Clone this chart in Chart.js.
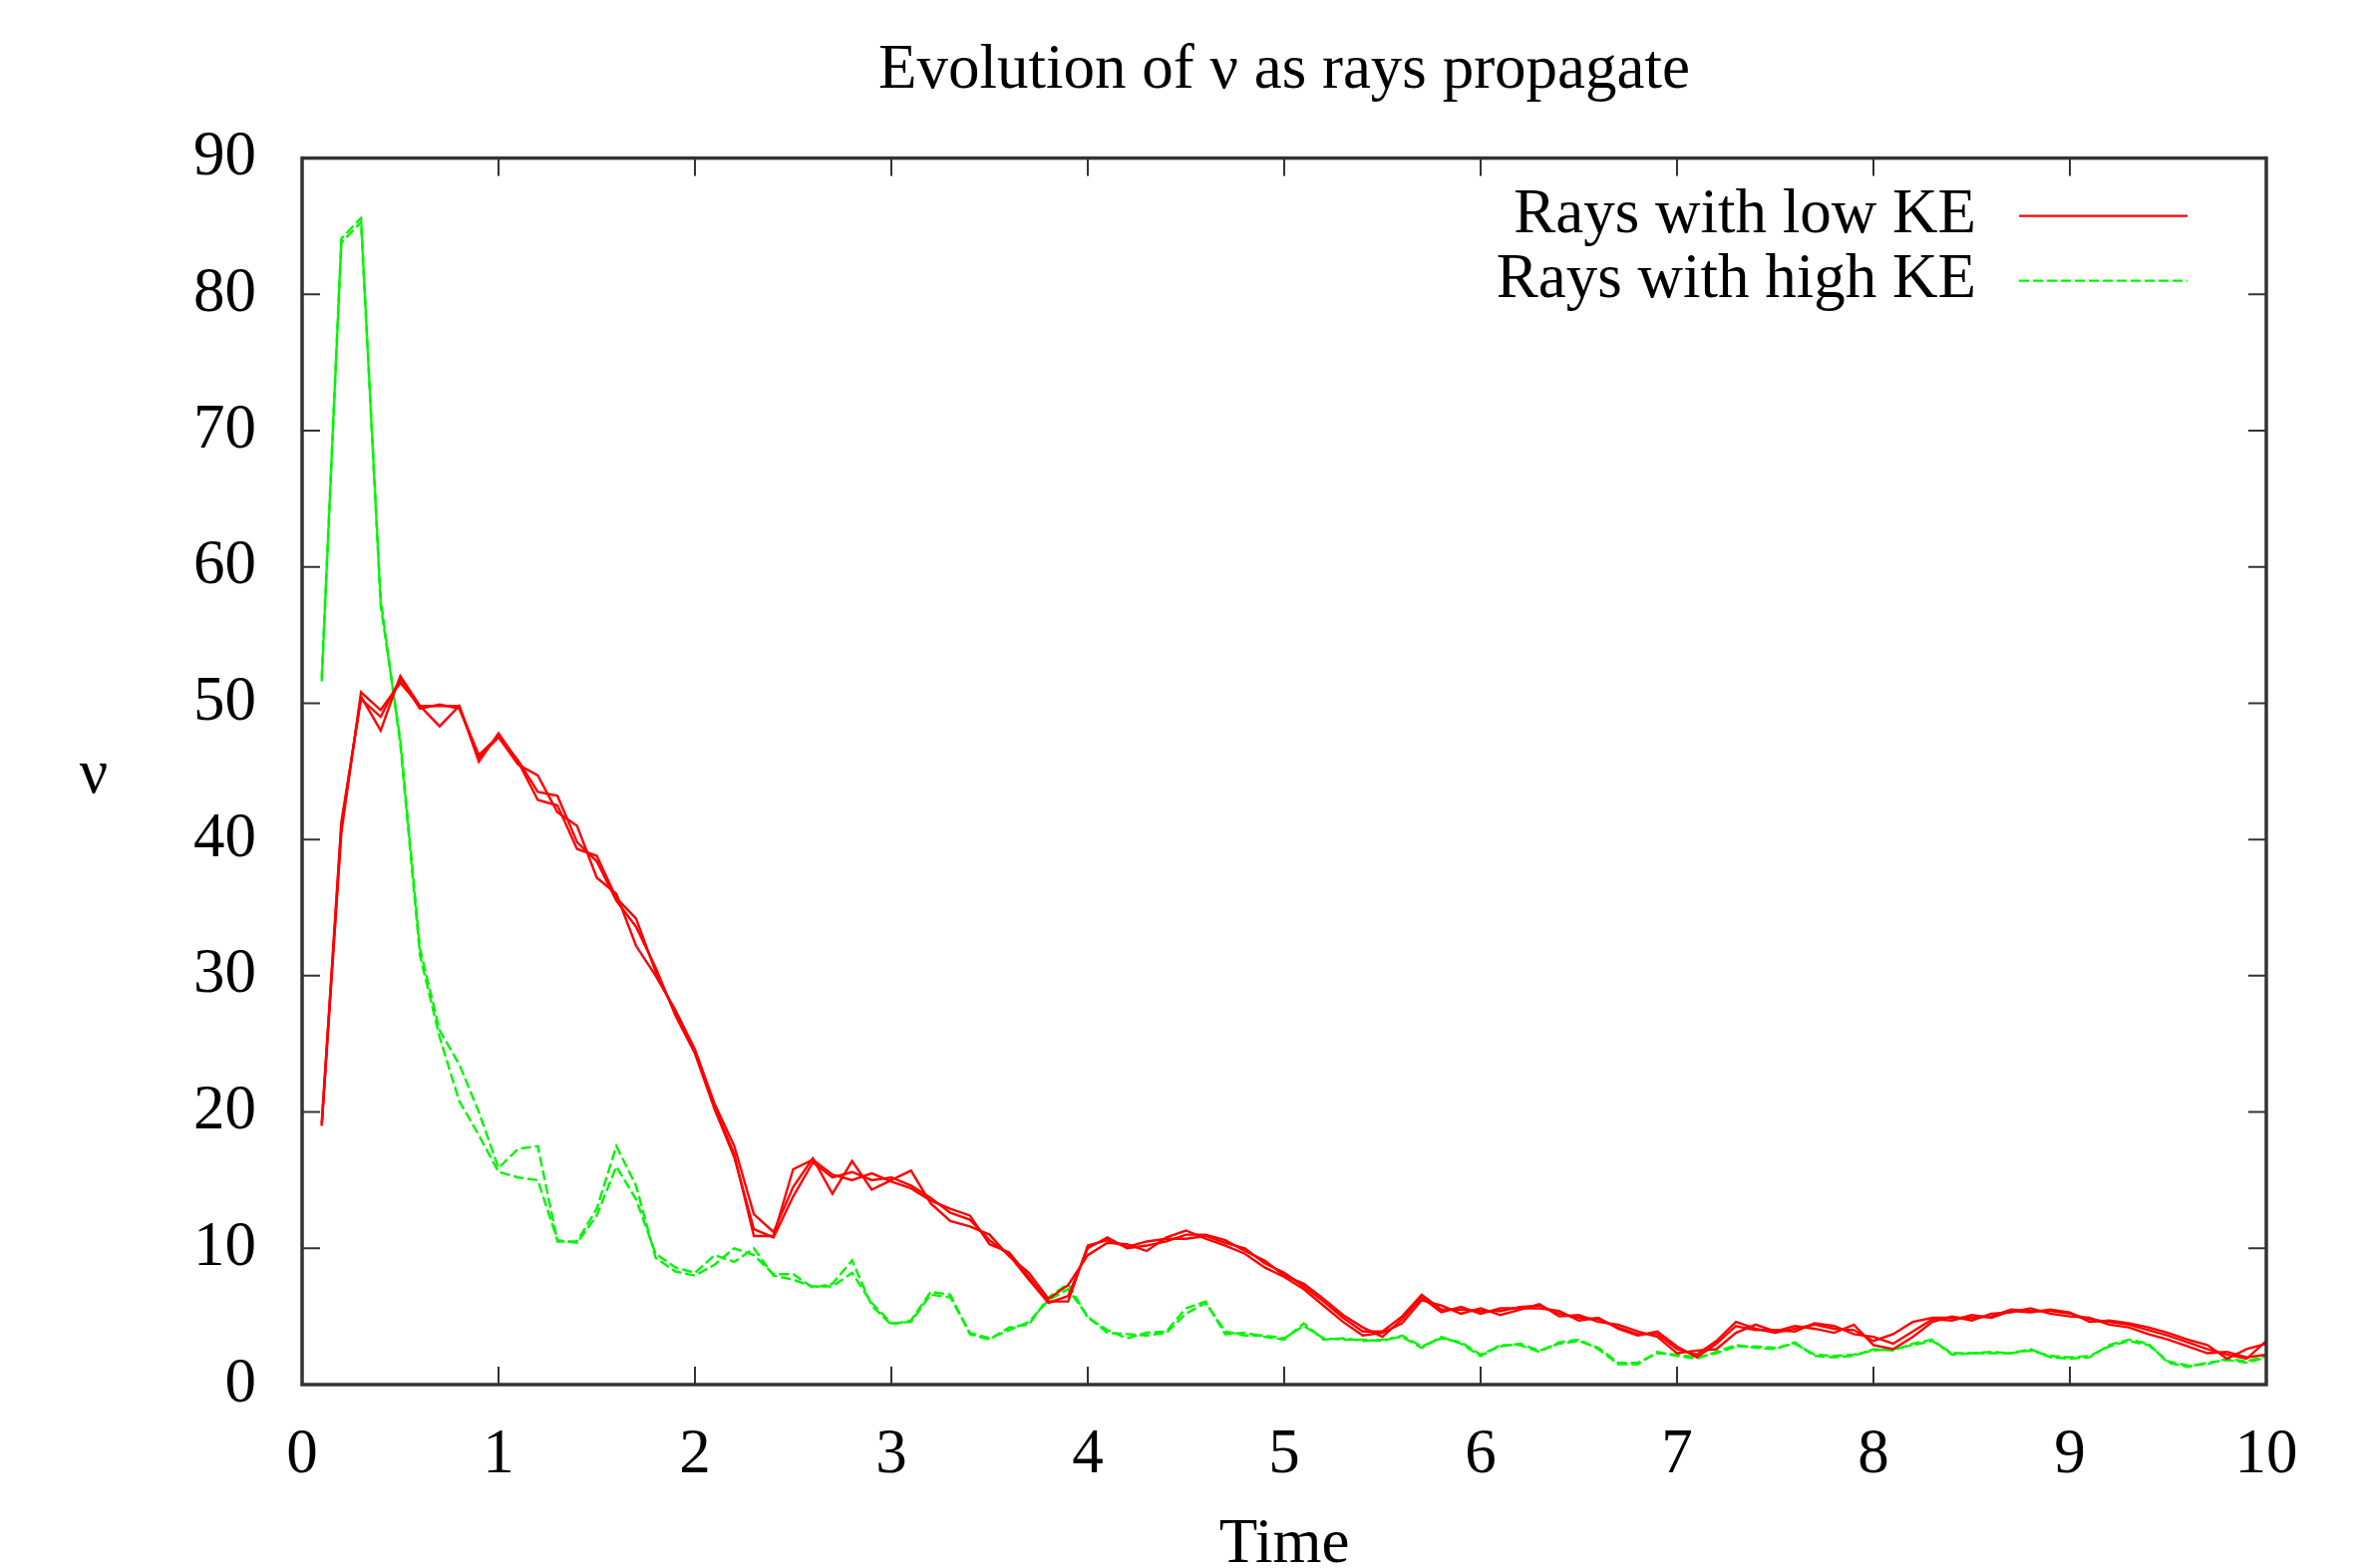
<!DOCTYPE html>
<html>
<head>
<meta charset="utf-8">
<title>Evolution of ν</title>
<script src="https://cdn.jsdelivr.net/npm/chart.js@4.4.1/dist/chart.umd.min.js"></script>
<style>
  html, body { margin: 0; padding: 0; background: #fff; }
  canvas { display: block; }
</style>
</head>
<body>
<canvas id="rays" width="2373" height="1573"></canvas>
<script>
// sample times (one every 0.1)
var times = [0.1,0.2,0.3,0.4,0.5,0.6,0.7,0.8,0.9,1.0,
  1.1,1.2,1.3,1.4,1.5,1.6,1.7,1.8,1.9,2.0,
  2.1,2.2,2.3,2.4,2.5,2.6,2.7,2.8,2.9,3.0,
  3.1,3.2,3.3,3.4,3.5,3.6,3.7,3.8,3.9,4.0,
  4.1,4.2,4.3,4.4,4.5,4.6,4.7,4.8,4.9,5.0,
  5.1,5.2,5.3,5.4,5.5,5.6,5.7,5.8,5.9,6.0,
  6.1,6.2,6.3,6.4,6.5,6.6,6.7,6.8,6.9,7.0,
  7.1,7.2,7.3,7.4,7.5,7.6,7.7,7.8,7.9,8.0,
  8.1,8.2,8.3,8.4,8.5,8.6,8.7,8.8,8.9,9.0,
  9.1,9.2,9.3,9.4,9.5,9.6,9.7,9.8,9.9,10.0];

// low KE rays
var lowKE1 = [19.0,41.0,50.5,48.0,52.0,49.8,49.8,49.8,45.7,47.8,
  45.7,42.9,42.5,39.3,38.8,35.7,34.2,30.3,27.3,24.4,
  20.4,16.9,10.9,10.9,15.8,16.5,15.4,15.0,15.5,14.9,
  14.4,13.5,12.9,12.4,10.3,9.7,7.9,6.1,6.1,10.2,
  10.6,10.1,10.5,10.7,10.7,10.9,10.4,10.0,8.9,8.2,
  7.2,6.1,4.9,3.9,3.9,5.0,6.6,5.5,5.5,5.4,
  5.4,5.7,5.8,5.2,4.9,4.8,4.2,3.7,3.7,2.6,
  2.2,3.2,4.6,4.1,3.8,4.1,4.4,4.1,4.0,3.2,
  3.7,4.6,4.9,4.9,4.9,5.0,5.5,5.4,5.4,5.2,
  4.8,4.6,4.4,4.0,3.6,3.1,2.6,2.2,1.9,3.2];
var lowKE2 = [19.0,40.5,50.8,49.5,51.5,49.8,48.3,49.8,46.0,47.5,
  45.5,44.7,42.0,41.0,37.2,36.0,32.2,30.0,27.5,24.6,
  20.6,17.5,12.5,11.2,14.5,16.6,14.0,16.4,14.3,15.0,
  15.7,13.3,12.0,11.6,11.0,9.4,8.2,6.3,7.3,9.5,
  10.4,10.3,9.8,10.8,11.3,10.7,10.2,9.6,8.6,7.9,
  7.0,5.8,4.6,3.6,3.8,4.5,6.2,5.8,5.2,5.6,
  5.1,5.5,5.9,5.0,5.1,4.6,4.4,3.9,3.5,2.3,
  2.5,2.6,3.8,4.4,3.9,4.3,4.1,3.8,4.4,2.9,
  2.6,3.5,4.6,5.0,4.7,5.2,5.3,5.6,5.2,5.0,
  4.9,4.4,4.2,3.7,3.3,2.8,2.3,2.4,2.0,2.2];
var lowKE3 = [19.2,41.3,50.3,49.0,51.8,49.6,49.9,49.6,46.2,47.6,
  45.8,43.5,43.2,39.8,38.4,35.5,33.6,30.6,27.1,24.3,
  20.2,16.7,11.4,10.8,13.8,16.3,15.2,15.6,15.0,15.2,
  14.6,13.7,12.6,12.1,10.6,9.5,7.7,6.0,6.5,10.0,
  10.8,10.0,10.2,10.5,11.0,11.0,10.6,9.8,9.1,8.0,
  7.4,6.3,5.1,4.2,3.5,4.8,6.4,5.3,5.7,5.2,
  5.6,5.6,5.6,5.4,4.7,4.9,4.1,3.6,3.9,2.8,
  2.0,3.0,4.3,4.0,4.0,3.9,4.5,4.3,3.7,3.5,
  3.0,3.9,4.8,4.7,5.1,4.9,5.4,5.3,5.5,5.3,
  4.6,4.7,4.5,4.2,3.8,3.3,2.9,1.9,2.6,3.0];

// high KE rays
var highKE1 = [51.9,84.1,85.6,57.2,47.3,32.0,26.0,23.5,20.0,15.9,
  17.3,17.5,10.5,10.5,12.9,17.5,14.6,9.3,8.3,8.0,
  8.8,10.0,9.5,8.1,8.1,7.1,7.4,9.1,5.8,4.4,
  4.7,6.8,6.6,3.7,3.3,4.2,4.4,6.4,7.4,4.9,
  4.0,3.4,3.8,3.9,5.6,6.1,3.7,3.8,3.5,3.3,
  4.5,3.3,3.4,3.2,3.3,3.5,2.7,3.5,3.0,2.1,
  2.9,2.9,2.4,3.1,3.3,2.6,1.5,1.5,2.4,2.1,
  1.9,2.4,2.9,2.7,2.6,3.1,2.1,2.0,2.1,2.6,
  2.5,3.0,3.3,2.2,2.3,2.3,2.3,2.6,2.0,1.9,
  2.0,2.9,3.3,3.0,1.6,1.3,1.6,1.8,1.6,2.0];
var highKE2 = [51.6,83.8,85.3,57.6,47.0,31.5,25.5,20.8,18.3,15.6,
  15.2,15.0,10.6,10.4,12.4,16.0,13.6,9.6,8.6,8.2,
  9.5,9.0,10.0,8.0,7.7,7.2,7.2,8.2,6.0,4.5,
  4.6,6.6,6.4,3.8,3.4,4.0,4.6,6.2,7.0,5.0,
  3.8,3.7,3.6,3.8,5.2,6.0,3.9,3.6,3.6,3.4,
  4.3,3.4,3.3,3.3,3.2,3.6,2.8,3.4,3.1,2.2,
  2.8,3.0,2.5,3.0,3.2,2.7,1.6,1.6,2.3,2.2,
  2.0,2.3,2.8,2.8,2.7,3.0,2.2,2.1,2.2,2.5,
  2.6,2.9,3.2,2.3,2.3,2.4,2.3,2.5,2.1,2.0,
  2.1,2.8,3.2,2.9,1.7,1.4,1.5,1.9,1.7,2.1];

var xTicks = [0,1,2,3,4,5,6,7,8,9,10];
var yTicks = [0,10,20,30,40,50,60,70,80,90];

var FONT = '"Liberation Serif", "Times New Roman", serif';
var RED = '#ff0000';
var GREEN = '#00f500';
var DASH = [10, 4];

function pts(vals) {
  return vals.map(function (v, i) { return {x: times[i], y: v}; });
}

function ray(label, vals, color, dash) {
  return {
    label: label,
    data: pts(vals),
    borderColor: color,
    borderWidth: 2.4,
    borderDash: dash || [],
    pointRadius: 0,
    fill: false,
    tension: 0
  };
}

// frame, inward ticks on all four sides, upright y label and gnuplot-style key
var gnuFrame = {
  id: 'gnuFrame',
  afterDraw: function (chart) {
    var ctx = chart.ctx, a = chart.chartArea;
    var sx = chart.scales.x, sy = chart.scales.y;
    var len = 18;
    ctx.save();
    ctx.strokeStyle = '#333';
    ctx.lineWidth = 2;
    ctx.beginPath();
    sx.ticks.forEach(function (t, i) {
      var px = sx.getPixelForTick(i);
      ctx.moveTo(px, a.bottom); ctx.lineTo(px, a.bottom - len);
      ctx.moveTo(px, a.top); ctx.lineTo(px, a.top + len);
    });
    sy.ticks.forEach(function (t, i) {
      var py = sy.getPixelForTick(i);
      ctx.moveTo(a.left, py); ctx.lineTo(a.left + len, py);
      ctx.moveTo(a.right, py); ctx.lineTo(a.right - len, py);
    });
    ctx.stroke();
    ctx.lineWidth = 3.5;
    ctx.strokeRect(a.left, a.top, a.right - a.left, a.bottom - a.top);

    ctx.fillStyle = '#000';
    ctx.font = '63px ' + FONT;
    ctx.textAlign = 'center';
    ctx.textBaseline = 'middle';
    ctx.fillText('ν', 94, (a.top + a.bottom) / 2 + 5);

    // key
    var keys = [
      {text: 'Rays with low KE', color: RED, dash: []},
      {text: 'Rays with high KE', color: GREEN, dash: DASH}
    ];
    keys.forEach(function (k, i) {
      var y = a.top + 58 + i * 65;
      ctx.textAlign = 'right';
      ctx.fillStyle = '#000';
      ctx.fillText(k.text, a.right - 291, y);
      ctx.strokeStyle = k.color;
      ctx.lineWidth = 2.4;
      ctx.setLineDash(k.dash);
      ctx.beginPath();
      ctx.moveTo(a.right - 248, y);
      ctx.lineTo(a.right - 79, y);
      ctx.stroke();
      ctx.setLineDash([]);
    });
    ctx.restore();
  }
};

new Chart(document.getElementById('rays').getContext('2d'), {
  type: 'line',
  data: {
    datasets: [
      ray('Rays with low KE', lowKE1, RED),
      ray('Rays with low KE', lowKE2, RED),
      ray('Rays with low KE', lowKE3, RED),
      ray('Rays with high KE', highKE1, GREEN, DASH),
      ray('Rays with high KE', highKE2, GREEN, DASH)
    ]
  },
  options: {
    responsive: false,
    devicePixelRatio: 1,
    animation: false,
    layout: { padding: { left: 0, right: 100, top: 0, bottom: 0 } },
    plugins: {
      legend: { display: false },
      tooltip: { enabled: false },
      title: {
        display: true,
        text: 'Evolution of ν as rays propagate',
        fullSize: false,
        color: '#000',
        font: { family: FONT, size: 63, weight: 'normal', lineHeight: 1.2 },
        padding: { top: 34, bottom: 49 }
      }
    },
    scales: {
      x: {
        type: 'linear',
        min: 0,
        max: 10,
        afterBuildTicks: function (s) { s.ticks = xTicks.map(function (v) { return {value: v}; }); },
        afterFit: function (s) { s.height = 184; },
        grid: { display: false },
        border: { display: false },
        ticks: { color: '#000', padding: 26, font: { family: FONT, size: 63 }, maxRotation: 0 },
        title: {
          display: true,
          text: 'Time',
          color: '#000',
          font: { family: FONT, size: 63, lineHeight: 0.7 },
          padding: 0
        }
      },
      y: {
        type: 'linear',
        min: 0,
        max: 90,
        afterBuildTicks: function (s) { s.ticks = yTicks.map(function (v) { return {value: v}; }); },
        afterFit: function (s) { s.width = 303; },
        grid: { display: false },
        border: { display: false },
        ticks: { color: '#000', padding: 38, font: { family: FONT, size: 63 } }
      }
    }
  },
  plugins: [gnuFrame]
});
</script>
</body>
</html>
